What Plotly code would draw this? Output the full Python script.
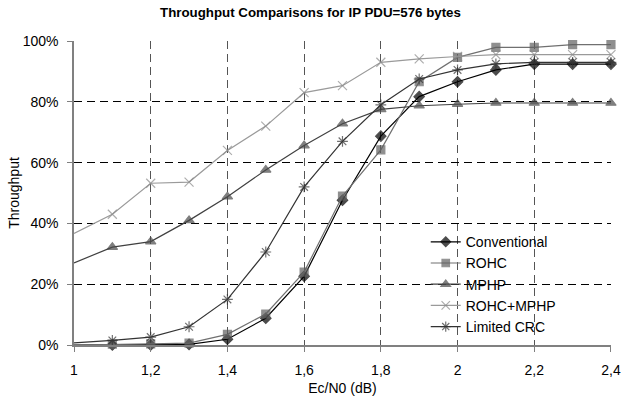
import plotly.graph_objects as go

x_vals = [1.0, 1.1, 1.2, 1.3, 1.4, 1.5, 1.6, 1.7, 1.8, 1.9, 2.0, 2.1, 2.2, 2.3, 2.4]
conventional = [0.0, 0.0, 0.0, 0.2, 1.9, 8.8, 22.6, 47.6, 68.7, 81.7, 86.6, 90.5, 92.4, 92.4, 92.4]
rohc = [0.0, 0.3, 0.4, 0.6, 3.5, 10.2, 24.0, 49.0, 64.2, 86.6, 94.6, 97.9, 97.9, 98.8, 98.8]
mphp = [27.0, 32.2, 34.0, 41.0, 48.8, 57.6, 65.6, 72.8, 77.5, 78.7, 79.2, 79.6, 79.6, 79.6, 79.6]
rohc_mphp = [36.7, 43.0, 53.2, 53.6, 64.0, 72.0, 83.0, 85.3, 93.0, 94.1, 94.9, 95.5, 95.5, 95.5, 95.5]
limited_crc = [0.7, 1.5, 2.6, 6.0, 15.0, 30.6, 52.0, 67.0, 79.0, 87.5, 90.5, 92.5, 93.0, 93.0, 93.0]

x_ticks = [1, 1.2, 1.4, 1.6, 1.8, 2, 2.2, 2.4]
x_tick_labels = ["1", "1,2", "1,4", "1,6", "1,8", "2", "2,2", "2,4"]
y_ticks = [0, 20, 40, 60, 80, 100]
y_tick_labels = ["0%", "20%", "40%", "60%", "80%", "100%"]

series = [
    ("Conventional", conventional, "#000000", "#000000", "diamond", 8),
    ("ROHC", rohc, "#707070", "#606060", "square", 8),
    ("MPHP", mphp, "#404040", "#4a4a4a", "triangle-up", 9),
    ("ROHC+MPHP", rohc_mphp, "#9a9a9a", "#8a8a8a", "x-thin-open", 9),
    ("Limited CRC", limited_crc, "#333333", "#333333", "asterisk-open", 9),
]

FONT = "Liberation Sans"

fig = go.Figure()
for name, ys, lc, mc, sym, sz in series:
    sizes = [0] + [sz] * (len(x_vals) - 1)
    fig.add_trace(go.Scatter(
        x=x_vals, y=ys, name=name, mode="lines+markers",
        line=dict(color=lc, width=1.2),
        marker=dict(symbol=sym, size=sizes, color=mc,
                    line=dict(color=mc, width=1.2)),
        cliponaxis=False,
    ))

fig.update_layout(
    width=621, height=402,
    margin=dict(l=74, r=10, t=41, b=57),
    paper_bgcolor="white", plot_bgcolor="white",
    font=dict(family=FONT, size=14, color="#000"),
    title=dict(text="<b>Throughput Comparisons for IP PDU=576 bytes</b>",
               x=0.5, xanchor="center", y=0.97, yanchor="middle",
               font=dict(family=FONT, size=13.3)),
    showlegend=True,
    legend=dict(x=0.655, xanchor="left", y=0.20, yanchor="middle",
                bgcolor="rgba(0,0,0,0)", font=dict(family=FONT, size=14),
                tracegroupgap=0, itemwidth=30),
)
fig.update_xaxes(
    range=[1, 2.4001], tickvals=x_ticks, ticktext=x_tick_labels,
    showgrid=True, gridcolor="#555", griddash="8px,5px", gridwidth=1,
    showline=True, linecolor="#808080", linewidth=2,
    ticks="outside", ticklen=5, tickcolor="#808080",
    ticklabelstandoff=6,
    zeroline=False, automargin=False,
    tickfont=dict(family=FONT, size=14),
    title=dict(text="Ec/N0 (dB)", standoff=6, font=dict(family=FONT, size=14)),
)
fig.update_yaxes(
    range=[0, 100], tickvals=y_ticks, ticktext=y_tick_labels,
    showgrid=True, gridcolor="#000", griddash="8px,5px", gridwidth=1,
    showline=True, linecolor="#808080", linewidth=1.5,
    ticks="outside", ticklen=5, tickcolor="#808080",
    ticklabelstandoff=6,
    zeroline=False, automargin=False,
    tickfont=dict(family=FONT, size=14),
    title=dict(text="Throughput", standoff=0, font=dict(family=FONT, size=14)),
)

fig.write_html("out.html",
               config={"displayModeBar": False},
               post_script="document.body.style.margin='0px';document.body.style.overflow='hidden';")
